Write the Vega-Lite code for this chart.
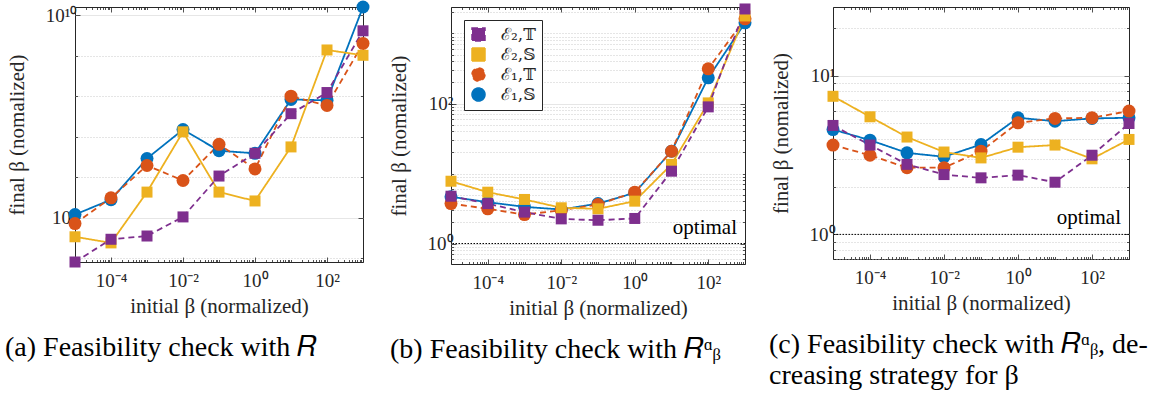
{
"$schema": "https://vega.github.io/schema/vega-lite/v6.json",
"padding": {"left": 4, "top": 0, "right": 0, "bottom": 0},
"autosize": {"type": "pad"},
"bounds": "flush",
"spacing": 88,
"resolve": {"scale": {"color": "independent", "shape": "independent", "strokeDash": "independent"}, "legend": {"color": "independent", "shape": "independent", "strokeDash": "independent"}},
"data": {"values": [
{"p":"a","s":"ℰ₁,𝕊","x":1e-5,"y":1.2e5},{"p":"a","s":"ℰ₁,𝕊","x":1e-4,"y":2.8e5},{"p":"a","s":"ℰ₁,𝕊","x":1e-3,"y":2.9e6},{"p":"a","s":"ℰ₁,𝕊","x":1e-2,"y":1.5e7},{"p":"a","s":"ℰ₁,𝕊","x":1e-1,"y":4.5e6},{"p":"a","s":"ℰ₁,𝕊","x":1,"y":3.9e6},{"p":"a","s":"ℰ₁,𝕊","x":10,"y":8.3e7},{"p":"a","s":"ℰ₁,𝕊","x":100,"y":7.9e7},{"p":"a","s":"ℰ₁,𝕊","x":1000,"y":1.585e10},
{"p":"a","s":"ℰ₁,𝕋","x":1e-5,"y":7.2e4},{"p":"a","s":"ℰ₁,𝕋","x":1e-4,"y":3.1e5},{"p":"a","s":"ℰ₁,𝕋","x":1e-3,"y":1.95e6},{"p":"a","s":"ℰ₁,𝕋","x":1e-2,"y":8.3e5},{"p":"a","s":"ℰ₁,𝕋","x":1e-1,"y":6.5e6},{"p":"a","s":"ℰ₁,𝕋","x":1,"y":1.6e6},{"p":"a","s":"ℰ₁,𝕋","x":10,"y":1.0e8},{"p":"a","s":"ℰ₁,𝕋","x":100,"y":5.9e7},{"p":"a","s":"ℰ₁,𝕋","x":1000,"y":2.0e9},
{"p":"a","s":"ℰ₂,𝕊","x":1e-5,"y":3.4e4},{"p":"a","s":"ℰ₂,𝕊","x":1e-4,"y":2.4e4},{"p":"a","s":"ℰ₂,𝕊","x":1e-3,"y":4.3e5},{"p":"a","s":"ℰ₂,𝕊","x":1e-2,"y":1.32e7},{"p":"a","s":"ℰ₂,𝕊","x":1e-1,"y":4.3e5},{"p":"a","s":"ℰ₂,𝕊","x":1,"y":2.6e5},{"p":"a","s":"ℰ₂,𝕊","x":10,"y":5.6e6},{"p":"a","s":"ℰ₂,𝕊","x":100,"y":1.38e9},{"p":"a","s":"ℰ₂,𝕊","x":1000,"y":1.02e9},
{"p":"a","s":"ℰ₂,𝕋","x":1e-5,"y":8110},{"p":"a","s":"ℰ₂,𝕋","x":1e-4,"y":2.95e4},{"p":"a","s":"ℰ₂,𝕋","x":1e-3,"y":3.55e4},{"p":"a","s":"ℰ₂,𝕋","x":1e-2,"y":1.05e5},{"p":"a","s":"ℰ₂,𝕋","x":1e-1,"y":1.07e6},{"p":"a","s":"ℰ₂,𝕋","x":1,"y":3.9e6},{"p":"a","s":"ℰ₂,𝕋","x":10,"y":3.7e7},{"p":"a","s":"ℰ₂,𝕋","x":100,"y":1.23e8},{"p":"a","s":"ℰ₂,𝕋","x":1000,"y":4.1e9},
{"p":"b","s":"ℰ₁,𝕊","x":1e-5,"y":4.65},{"p":"b","s":"ℰ₁,𝕊","x":1e-4,"y":3.89},{"p":"b","s":"ℰ₁,𝕊","x":1e-3,"y":3.34},{"p":"b","s":"ℰ₁,𝕊","x":1e-2,"y":3.06},{"p":"b","s":"ℰ₁,𝕊","x":1e-1,"y":3.72},{"p":"b","s":"ℰ₁,𝕊","x":1,"y":5.3},{"p":"b","s":"ℰ₁,𝕊","x":10,"y":20.8},{"p":"b","s":"ℰ₁,𝕊","x":100,"y":233},{"p":"b","s":"ℰ₁,𝕊","x":1000,"y":1420},
{"p":"b","s":"ℰ₁,𝕋","x":1e-5,"y":3.72},{"p":"b","s":"ℰ₁,𝕋","x":1e-4,"y":3.13},{"p":"b","s":"ℰ₁,𝕋","x":1e-3,"y":2.59},{"p":"b","s":"ℰ₁,𝕋","x":1e-2,"y":2.99},{"p":"b","s":"ℰ₁,𝕋","x":1e-1,"y":3.61},{"p":"b","s":"ℰ₁,𝕋","x":1,"y":5.41},{"p":"b","s":"ℰ₁,𝕋","x":10,"y":20.8},{"p":"b","s":"ℰ₁,𝕋","x":100,"y":313},{"p":"b","s":"ℰ₁,𝕋","x":1000,"y":1620},
{"p":"b","s":"ℰ₂,𝕊","x":1e-5,"y":7.76},{"p":"b","s":"ℰ₂,𝕊","x":1e-4,"y":5.41},{"p":"b","s":"ℰ₂,𝕊","x":1e-3,"y":4.26},{"p":"b","s":"ℰ₂,𝕊","x":1e-2,"y":3.24},{"p":"b","s":"ℰ₂,𝕊","x":1e-1,"y":3.13},{"p":"b","s":"ℰ₂,𝕊","x":1,"y":4.03},{"p":"b","s":"ℰ₂,𝕊","x":10,"y":13.5},{"p":"b","s":"ℰ₂,𝕊","x":100,"y":102},{"p":"b","s":"ℰ₂,𝕊","x":1000,"y":1780},
{"p":"b","s":"ℰ₂,𝕋","x":1e-5,"y":4.74},{"p":"b","s":"ℰ₂,𝕋","x":1e-4,"y":3.72},{"p":"b","s":"ℰ₂,𝕋","x":1e-3,"y":2.81},{"p":"b","s":"ℰ₂,𝕋","x":1e-2,"y":2.25},{"p":"b","s":"ℰ₂,𝕋","x":1e-1,"y":2.15},{"p":"b","s":"ℰ₂,𝕋","x":1,"y":2.28},{"p":"b","s":"ℰ₂,𝕋","x":10,"y":10.8},{"p":"b","s":"ℰ₂,𝕋","x":100,"y":89.5},{"p":"b","s":"ℰ₂,𝕋","x":1000,"y":2240},
{"p":"c","s":"ℰ₁,𝕊","x":1e-5,"y":4.57},{"p":"c","s":"ℰ₁,𝕊","x":1e-4,"y":3.92},{"p":"c","s":"ℰ₁,𝕊","x":1e-3,"y":3.26},{"p":"c","s":"ℰ₁,𝕊","x":1e-2,"y":3.08},{"p":"c","s":"ℰ₁,𝕊","x":1e-1,"y":3.68},{"p":"c","s":"ℰ₁,𝕊","x":1,"y":5.42},{"p":"c","s":"ℰ₁,𝕊","x":10,"y":5.16},{"p":"c","s":"ℰ₁,𝕊","x":100,"y":5.37},{"p":"c","s":"ℰ₁,𝕊","x":1000,"y":5.42},
{"p":"c","s":"ℰ₁,𝕋","x":1e-5,"y":3.65},{"p":"c","s":"ℰ₁,𝕋","x":1e-4,"y":3.15},{"p":"c","s":"ℰ₁,𝕋","x":1e-3,"y":2.63},{"p":"c","s":"ℰ₁,𝕋","x":1e-2,"y":2.63},{"p":"c","s":"ℰ₁,𝕋","x":1e-1,"y":3.34},{"p":"c","s":"ℰ₁,𝕋","x":1,"y":5.04},{"p":"c","s":"ℰ₁,𝕋","x":10,"y":5.37},{"p":"c","s":"ℰ₁,𝕋","x":100,"y":5.42},{"p":"c","s":"ℰ₁,𝕋","x":1000,"y":5.97},
{"p":"c","s":"ℰ₂,𝕊","x":1e-5,"y":7.4},{"p":"c","s":"ℰ₂,𝕊","x":1e-4,"y":5.5},{"p":"c","s":"ℰ₂,𝕊","x":1e-3,"y":4.1},{"p":"c","s":"ℰ₂,𝕊","x":1e-2,"y":3.3},{"p":"c","s":"ℰ₂,𝕊","x":1e-1,"y":3.03},{"p":"c","s":"ℰ₂,𝕊","x":1,"y":3.54},{"p":"c","s":"ℰ₂,𝕊","x":10,"y":3.65},{"p":"c","s":"ℰ₂,𝕊","x":100,"y":2.99},{"p":"c","s":"ℰ₂,𝕊","x":1000,"y":3.96},
{"p":"c","s":"ℰ₂,𝕋","x":1e-5,"y":4.85},{"p":"c","s":"ℰ₂,𝕋","x":1e-4,"y":3.65},{"p":"c","s":"ℰ₂,𝕋","x":1e-3,"y":2.76},{"p":"c","s":"ℰ₂,𝕋","x":1e-2,"y":2.38},{"p":"c","s":"ℰ₂,𝕋","x":1e-1,"y":2.27},{"p":"c","s":"ℰ₂,𝕋","x":1,"y":2.36},{"p":"c","s":"ℰ₂,𝕋","x":10,"y":2.13},{"p":"c","s":"ℰ₂,𝕋","x":100,"y":3.15},{"p":"c","s":"ℰ₂,𝕋","x":1000,"y":4.99}
]},
"hconcat": [
{
 "width": 288, "height": 255,
 "title": {"text": "(a) Feasibility check with 𝑅", "orient": "bottom", "anchor": "start", "frame": "group", "dx": -70, "offset": 17, "font": "Liberation Serif", "fontSize": 28, "fontWeight": "normal", "color": "black"},
 "transform": [{"filter": "datum.p == 'a'"}],
 "layer": [
  {"mark": {"type": "line", "strokeWidth": 1.8},
   "encoding": {
    "x": {"field": "x", "type": "quantitative", "scale": {"type": "log", "domain": [1e-5, 1000], "nice": false},
     "axis": {"orient": "bottom", "title": "initial β (normalized)", "grid": false,
      "values": [1e-5,2e-5,3e-5,4e-5,5e-5,6e-5,7e-5,8e-5,9e-5,1e-4,2e-4,3e-4,4e-4,5e-4,6e-4,7e-4,8e-4,9e-4,0.001,0.002,0.003,0.004,0.005,0.006,0.007,0.008,0.009,0.01,0.02,0.03,0.04,0.05,0.06,0.07,0.08,0.09,0.1,0.2,0.3,0.4,0.5,0.6,0.7,0.8,0.9,1,2,3,4,5,6,7,8,9,10,20,30,40,50,60,70,80,90,100,200,300,400,500,600,700,800,900,1000],
      "labelExpr": "datum.value == 0.0001 ? '10⁻⁴' : datum.value == 0.01 ? '10⁻²' : datum.value == 1 ? '10⁰' : datum.value == 100 ? '10²' : ''",
      "tickSize": {"condition": {"test": "indexof([0.0001,0.01,1,100], datum.value) >= 0", "value": -5}, "value": -2.5},
      "labelPadding": 14, "titlePadding": 3}},
    "y": {"field": "y", "type": "quantitative", "scale": {"type": "log", "domain": [8110, 1.585e10], "nice": false},
     "axis": {"orient": "left", "title": "final β (nomalized)",
      "values": [1e4,1e5,1e6,1e7,1e8,1e9,1e10],
      "labelExpr": "datum.value == 100000 ? '10⁵' : datum.value == 10000000000 ? '10¹⁰' : ''",
      "tickSize": {"condition": {"test": "indexof([100000,10000000000], datum.value) >= 0", "value": -5}, "value": -2.5},
      "grid": true,
      "gridColor": {"condition": {"test": "indexof([100000,10000000000], datum.value) >= 0", "value": "#e0e0e0"}, "value": "#bdbdbd"},
      "gridDash": {"condition": {"test": "indexof([100000,10000000000], datum.value) >= 0", "value": []}, "value": [1, 2]},
      "gridWidth": 0.8, "labelPadding": 3, "titlePadding": 18}},
    "color": {"field": "s", "type": "nominal", "scale": {"domain": ["ℰ₂,𝕋","ℰ₂,𝕊","ℰ₁,𝕋","ℰ₁,𝕊"], "range": ["#7E2F8E","#EDB120","#D95319","#0072BD"]}, "legend": null},
    "strokeDash": {"field": "s", "type": "nominal", "scale": {"domain": ["ℰ₂,𝕋","ℰ₂,𝕊","ℰ₁,𝕋","ℰ₁,𝕊"], "range": [[6,4],[1,0],[6,4],[1,0]]}, "legend": null}
   }},
  {"mark": {"type": "point", "filled": true, "opacity": 1},
   "encoding": {
    "x": {"field": "x", "type": "quantitative", "scale": {"type": "log", "domain": [1e-5, 1000], "nice": false},
     "axis": {"orient": "top", "title": null, "labels": false, "grid": false,
      "values": [1e-5,2e-5,3e-5,4e-5,5e-5,6e-5,7e-5,8e-5,9e-5,1e-4,2e-4,3e-4,4e-4,5e-4,6e-4,7e-4,8e-4,9e-4,0.001,0.002,0.003,0.004,0.005,0.006,0.007,0.008,0.009,0.01,0.02,0.03,0.04,0.05,0.06,0.07,0.08,0.09,0.1,0.2,0.3,0.4,0.5,0.6,0.7,0.8,0.9,1,2,3,4,5,6,7,8,9,10,20,30,40,50,60,70,80,90,100,200,300,400,500,600,700,800,900,1000],
      "tickSize": {"condition": {"test": "indexof([0.0001,0.01,1,100], datum.value) >= 0", "value": -5}, "value": -2.5}}},
    "y": {"field": "y", "type": "quantitative", "scale": {"type": "log", "domain": [8110, 1.585e10], "nice": false},
     "axis": {"orient": "right", "title": null, "labels": false, "grid": false,
      "values": [1e4,1e5,1e6,1e7,1e8,1e9,1e10],
      "tickSize": {"condition": {"test": "indexof([100000,10000000000], datum.value) >= 0", "value": -5}, "value": -2.5}}},
    "color": {"field": "s", "type": "nominal", "scale": {"domain": ["ℰ₂,𝕋","ℰ₂,𝕊","ℰ₁,𝕋","ℰ₁,𝕊"], "range": ["#7E2F8E","#EDB120","#D95319","#0072BD"]}, "legend": null},
    "shape": {"field": "s", "type": "nominal", "scale": {"domain": ["ℰ₂,𝕋","ℰ₂,𝕊","ℰ₁,𝕋","ℰ₁,𝕊"], "range": ["square","square","circle","circle"]}, "legend": null},
    "size": {"condition": {"test": "indexof(datum.s, 'ℰ₁') >= 0", "value": 169}, "value": 121}
   }}
 ],
 "resolve": {"axis": {"x": "independent", "y": "independent"}}
},
{
 "width": 294, "height": 257,
 "title": {"text": "(b) Feasibility check with 𝑅ᵅᵦ", "orient": "bottom", "anchor": "start", "frame": "group", "dx": -61, "offset": 17, "font": "Liberation Serif", "fontSize": 28, "fontWeight": "normal", "color": "black"},
 "layer": [
  {"transform": [{"filter": "datum.p == 'b'"}],
   "mark": {"type": "line", "strokeWidth": 1.8},
   "encoding": {
    "x": {"field": "x", "type": "quantitative", "scale": {"type": "log", "domain": [1e-5, 1000], "nice": false},
     "axis": {"orient": "bottom", "title": "initial β (normalized)", "grid": false,
      "values": [1e-5,2e-5,3e-5,4e-5,5e-5,6e-5,7e-5,8e-5,9e-5,1e-4,2e-4,3e-4,4e-4,5e-4,6e-4,7e-4,8e-4,9e-4,0.001,0.002,0.003,0.004,0.005,0.006,0.007,0.008,0.009,0.01,0.02,0.03,0.04,0.05,0.06,0.07,0.08,0.09,0.1,0.2,0.3,0.4,0.5,0.6,0.7,0.8,0.9,1,2,3,4,5,6,7,8,9,10,20,30,40,50,60,70,80,90,100,200,300,400,500,600,700,800,900,1000],
      "labelExpr": "datum.value == 0.0001 ? '10⁻⁴' : datum.value == 0.01 ? '10⁻²' : datum.value == 1 ? '10⁰' : datum.value == 100 ? '10²' : ''",
      "tickSize": {"condition": {"test": "indexof([0.0001,0.01,1,100], datum.value) >= 0", "value": -5}, "value": -2.5},
      "labelPadding": 14, "titlePadding": 3}},
    "y": {"field": "y", "type": "quantitative", "scale": {"type": "log", "domain": [0.51, 2390], "nice": false},
     "axis": {"orient": "left", "title": "final β (nomalized)",
      "values": [0.6,0.7,0.8,0.9,1,2,3,4,5,6,7,8,9,10,20,30,40,50,60,70,80,90,100,200,300,400,500,600,700,800,900,1000,2000],
      "labelExpr": "datum.value == 1 ? '10⁰' : datum.value == 100 ? '10²' : ''",
      "tickSize": {"condition": {"test": "indexof([1,100], datum.value) >= 0", "value": -5}, "value": -2.5},
      "grid": true,
      "gridColor": {"condition": {"test": "indexof([1,100], datum.value) >= 0", "value": "#e0e0e0"}, "value": "#bdbdbd"},
      "gridDash": {"condition": {"test": "indexof([1,100], datum.value) >= 0", "value": []}, "value": [1, 2]},
      "gridWidth": 0.8, "labelPadding": 3, "titlePadding": 18}},
    "color": {"field": "s", "type": "nominal", "scale": {"domain": ["ℰ₂,𝕋","ℰ₂,𝕊","ℰ₁,𝕋","ℰ₁,𝕊"], "range": ["#7E2F8E","#EDB120","#D95319","#0072BD"]},
     "legend": {"title": null, "orient": "top-left", "offset": 13, "padding": 6, "strokeColor": "#262626", "fillColor": "white", "labelFont": "DejaVu Serif", "labelFontSize": 17, "labelColor": "#262626", "symbolSize": 169, "labelOffset": 14, "rowPadding": 1, "symbolStrokeWidth": 1.5, "symbolType": "square"}},
    "strokeDash": {"field": "s", "type": "nominal", "scale": {"domain": ["ℰ₂,𝕋","ℰ₂,𝕊","ℰ₁,𝕋","ℰ₁,𝕊"], "range": [[6,4],[1,0],[6,4],[1,0]]}, "legend": null}
   }},
  {"data": {"values": [{"label": "optimal"}]},
   "mark": {"type": "rule", "color": "black", "strokeDash": [1.5, 1.5], "strokeWidth": 1},
   "encoding": {"y": {"datum": 1, "type": "quantitative", "axis": null}}},
  {"data": {"values": [{"label": "optimal"}]},
   "mark": {"type": "text", "align": "right", "baseline": "alphabetic", "dx": -8, "dy": -10, "font": "Liberation Serif", "fontSize": 21, "color": "black"},
   "encoding": {"x": {"datum": 1000, "type": "quantitative", "axis": null}, "y": {"datum": 1, "type": "quantitative", "axis": null}, "text": {"field": "label"}}},
  {"transform": [{"filter": "datum.p == 'b'"}],
   "mark": {"type": "point", "filled": true, "opacity": 1},
   "encoding": {
    "x": {"field": "x", "type": "quantitative", "scale": {"type": "log", "domain": [1e-5, 1000], "nice": false},
     "axis": {"orient": "top", "title": null, "labels": false, "grid": false,
      "values": [1e-5,2e-5,3e-5,4e-5,5e-5,6e-5,7e-5,8e-5,9e-5,1e-4,2e-4,3e-4,4e-4,5e-4,6e-4,7e-4,8e-4,9e-4,0.001,0.002,0.003,0.004,0.005,0.006,0.007,0.008,0.009,0.01,0.02,0.03,0.04,0.05,0.06,0.07,0.08,0.09,0.1,0.2,0.3,0.4,0.5,0.6,0.7,0.8,0.9,1,2,3,4,5,6,7,8,9,10,20,30,40,50,60,70,80,90,100,200,300,400,500,600,700,800,900,1000],
      "tickSize": {"condition": {"test": "indexof([0.0001,0.01,1,100], datum.value) >= 0", "value": -5}, "value": -2.5}}},
    "y": {"field": "y", "type": "quantitative", "scale": {"type": "log", "domain": [0.51, 2390], "nice": false},
     "axis": {"orient": "right", "title": null, "labels": false, "grid": false,
      "values": [0.6,0.7,0.8,0.9,1,2,3,4,5,6,7,8,9,10,20,30,40,50,60,70,80,90,100,200,300,400,500,600,700,800,900,1000,2000],
      "tickSize": {"condition": {"test": "indexof([1,100], datum.value) >= 0", "value": -5}, "value": -2.5}}},
    "color": {"field": "s", "type": "nominal", "scale": {"domain": ["ℰ₂,𝕋","ℰ₂,𝕊","ℰ₁,𝕋","ℰ₁,𝕊"], "range": ["#7E2F8E","#EDB120","#D95319","#0072BD"]},
     "legend": {"title": null, "orient": "top-left", "offset": 13, "padding": 6, "strokeColor": "#262626", "fillColor": "white", "labelFont": "DejaVu Serif", "labelFontSize": 17, "labelColor": "#262626", "symbolSize": 169, "labelOffset": 14, "rowPadding": 1, "symbolStrokeWidth": 1.5, "symbolType": "square"}},
    "shape": {"field": "s", "type": "nominal", "scale": {"domain": ["ℰ₂,𝕋","ℰ₂,𝕊","ℰ₁,𝕋","ℰ₁,𝕊"], "range": ["square","square","circle","circle"]}, "legend": null},
    "size": {"condition": {"test": "indexof(datum.s, 'ℰ₁') >= 0", "value": 169}, "value": 121}
   }}
 ],
 "resolve": {"axis": {"x": "independent", "y": "independent"}}
},
{
 "width": 296, "height": 252,
 "title": {"text": ["(c) Feasibility check with 𝑅ᵅᵦ, de-", "creasing strategy for β"], "orient": "bottom", "anchor": "start", "frame": "group", "dx": -64, "offset": 17, "lineHeight": 31, "font": "Liberation Serif", "fontSize": 28, "fontWeight": "normal", "color": "black"},
 "layer": [
  {"transform": [{"filter": "datum.p == 'c'"}],
   "mark": {"type": "line", "strokeWidth": 1.8},
   "encoding": {
    "x": {"field": "x", "type": "quantitative", "scale": {"type": "log", "domain": [1e-5, 1000], "nice": false},
     "axis": {"orient": "bottom", "title": "initial β (normalized)", "grid": false,
      "values": [1e-5,2e-5,3e-5,4e-5,5e-5,6e-5,7e-5,8e-5,9e-5,1e-4,2e-4,3e-4,4e-4,5e-4,6e-4,7e-4,8e-4,9e-4,0.001,0.002,0.003,0.004,0.005,0.006,0.007,0.008,0.009,0.01,0.02,0.03,0.04,0.05,0.06,0.07,0.08,0.09,0.1,0.2,0.3,0.4,0.5,0.6,0.7,0.8,0.9,1,2,3,4,5,6,7,8,9,10,20,30,40,50,60,70,80,90,100,200,300,400,500,600,700,800,900,1000],
      "labelExpr": "datum.value == 0.0001 ? '10⁻⁴' : datum.value == 0.01 ? '10⁻²' : datum.value == 1 ? '10⁰' : datum.value == 100 ? '10²' : ''",
      "tickSize": {"condition": {"test": "indexof([0.0001,0.01,1,100], datum.value) >= 0", "value": -5}, "value": -2.5},
      "labelPadding": 14, "titlePadding": 3}},
    "y": {"field": "y", "type": "quantitative", "scale": {"type": "log", "domain": [0.7, 27], "nice": false},
     "axis": {"orient": "left", "title": "final β (nomalized)",
      "values": [0.7,0.8,0.9,1,2,3,4,5,6,7,8,9,10,20],
      "labelExpr": "datum.value == 1 ? '10⁰' : datum.value == 10 ? '10¹' : ''",
      "tickSize": {"condition": {"test": "indexof([1,10], datum.value) >= 0", "value": -5}, "value": -2.5},
      "grid": true,
      "gridColor": {"condition": {"test": "indexof([1,10], datum.value) >= 0", "value": "#e0e0e0"}, "value": "#bdbdbd"},
      "gridDash": {"condition": {"test": "indexof([1,10], datum.value) >= 0", "value": []}, "value": [1, 2]},
      "gridWidth": 0.8, "labelPadding": 3, "titlePadding": 18}},
    "color": {"field": "s", "type": "nominal", "scale": {"domain": ["ℰ₂,𝕋","ℰ₂,𝕊","ℰ₁,𝕋","ℰ₁,𝕊"], "range": ["#7E2F8E","#EDB120","#D95319","#0072BD"]}, "legend": null},
    "strokeDash": {"field": "s", "type": "nominal", "scale": {"domain": ["ℰ₂,𝕋","ℰ₂,𝕊","ℰ₁,𝕋","ℰ₁,𝕊"], "range": [[6,4],[1,0],[6,4],[1,0]]}, "legend": null}
   }},
  {"data": {"values": [{"label": "optimal"}]},
   "mark": {"type": "rule", "color": "black", "strokeDash": [1.5, 1.5], "strokeWidth": 1},
   "encoding": {"y": {"datum": 1, "type": "quantitative", "axis": null}}},
  {"data": {"values": [{"label": "optimal"}]},
   "mark": {"type": "text", "align": "right", "baseline": "alphabetic", "dx": -8, "dy": -10, "font": "Liberation Serif", "fontSize": 21, "color": "black"},
   "encoding": {"x": {"datum": 1000, "type": "quantitative", "axis": null}, "y": {"datum": 1, "type": "quantitative", "axis": null}, "text": {"field": "label"}}},
  {"transform": [{"filter": "datum.p == 'c'"}],
   "mark": {"type": "point", "filled": true, "opacity": 1},
   "encoding": {
    "x": {"field": "x", "type": "quantitative", "scale": {"type": "log", "domain": [1e-5, 1000], "nice": false},
     "axis": {"orient": "top", "title": null, "labels": false, "grid": false,
      "values": [1e-5,2e-5,3e-5,4e-5,5e-5,6e-5,7e-5,8e-5,9e-5,1e-4,2e-4,3e-4,4e-4,5e-4,6e-4,7e-4,8e-4,9e-4,0.001,0.002,0.003,0.004,0.005,0.006,0.007,0.008,0.009,0.01,0.02,0.03,0.04,0.05,0.06,0.07,0.08,0.09,0.1,0.2,0.3,0.4,0.5,0.6,0.7,0.8,0.9,1,2,3,4,5,6,7,8,9,10,20,30,40,50,60,70,80,90,100,200,300,400,500,600,700,800,900,1000],
      "tickSize": {"condition": {"test": "indexof([0.0001,0.01,1,100], datum.value) >= 0", "value": -5}, "value": -2.5}}},
    "y": {"field": "y", "type": "quantitative", "scale": {"type": "log", "domain": [0.7, 27], "nice": false},
     "axis": {"orient": "right", "title": null, "labels": false, "grid": false,
      "values": [0.7,0.8,0.9,1,2,3,4,5,6,7,8,9,10,20],
      "tickSize": {"condition": {"test": "indexof([1,10], datum.value) >= 0", "value": -5}, "value": -2.5}}},
    "color": {"field": "s", "type": "nominal", "scale": {"domain": ["ℰ₂,𝕋","ℰ₂,𝕊","ℰ₁,𝕋","ℰ₁,𝕊"], "range": ["#7E2F8E","#EDB120","#D95319","#0072BD"]}, "legend": null},
    "shape": {"field": "s", "type": "nominal", "scale": {"domain": ["ℰ₂,𝕋","ℰ₂,𝕊","ℰ₁,𝕋","ℰ₁,𝕊"], "range": ["square","square","circle","circle"]}, "legend": null},
    "size": {"condition": {"test": "indexof(datum.s, 'ℰ₁') >= 0", "value": 169}, "value": 121}
   }}
 ],
 "resolve": {"axis": {"x": "independent", "y": "independent"}}
}
],
"config": {
 "font": "Liberation Serif",
 "view": {"stroke": "#262626", "strokeWidth": 1},
 "axis": {"labelFont": "Liberation Serif", "labelFontSize": 19, "labelColor": "#262626", "titleFont": "Liberation Serif", "titleFontSize": 21, "titleFontWeight": "normal", "titleColor": "#262626", "tickColor": "#262626", "tickWidth": 0.8, "domain": false, "labelOverlap": false, "labelFlush": false, "labelBound": false}
}
}
